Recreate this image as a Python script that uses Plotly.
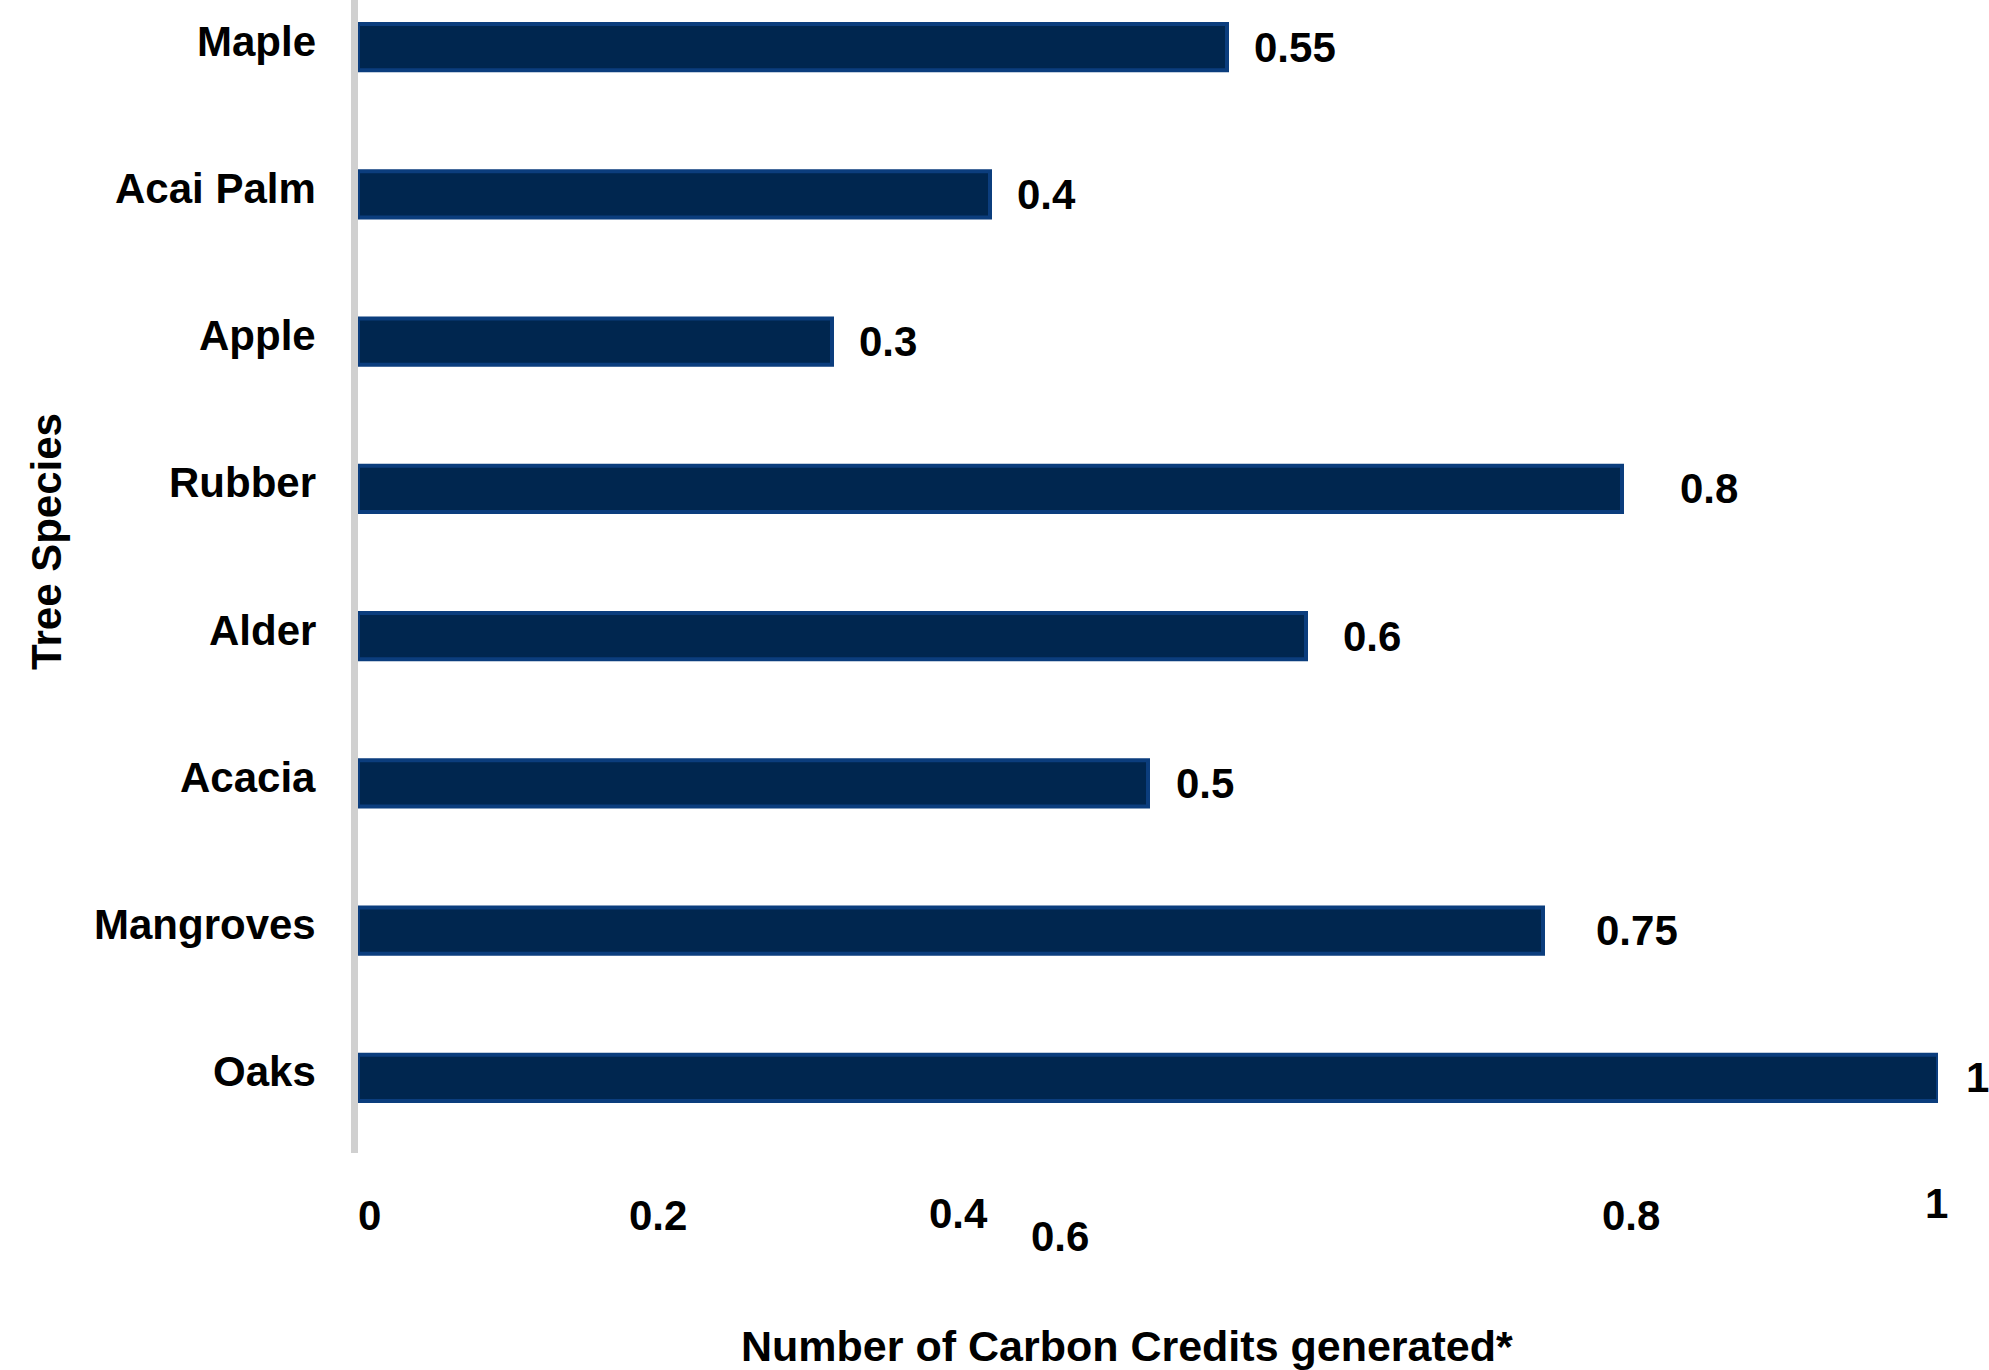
import plotly.graph_objects as go

species = ["Maple", "Acai Palm", "Apple", "Rubber", "Alder", "Acacia", "Mangroves", "Oaks"]
credits = [0.55, 0.4, 0.3, 0.8, 0.6, 0.5, 0.75, 1]
value_labels = ["0.55", "0.4", "0.3", "0.8", "0.6", "0.5", "0.75", "1"]
label_gap = [27, 27, 27, 58, 37, 28, 53, 28]

tick_text = ["0", "0.2", "0.4", "0.6", "0.8", "1"]
tick_pos = [0.007, 0.19, 0.38, 0.444, 0.806, 0.999]
tick_drop = [62, 62, 60, 83, 62, 50]

BOLD = "Liberation Sans, Arial, sans-serif"
NARROW = "Liberation Sans Narrow, Arial Narrow, Liberation Sans, sans-serif"

fig = go.Figure()
fig.add_trace(go.Bar(
    x=credits, y=species, orientation="h", width=0.315,
    marker=dict(color="#00264f", line=dict(color="#0b3d7d", width=4)),
    hoverinfo="skip",
))

annotations = []
for sp in species:
    annotations.append(dict(x=0, y=sp, xref="paper", yref="y", text=sp, showarrow=False,
                            xanchor="right", yanchor="middle", xshift=-40, yshift=6,
                            font=dict(family=BOLD, size=42, color="#000000", weight="bold")))
for sp, v, lab, gap in zip(species, credits, value_labels, label_gap):
    annotations.append(dict(x=v, y=sp, xref="x", yref="y", text=lab, showarrow=False,
                            xanchor="left", yanchor="middle", xshift=gap - 2,
                            font=dict(family=BOLD, size=42, color="#000000", weight="bold")))
for t, p, d in zip(tick_text, tick_pos, tick_drop):
    annotations.append(dict(x=p, y=0, xref="x", yref="paper", text=t, showarrow=False,
                            xanchor="center", yanchor="middle", yshift=-d,
                            font=dict(family=NARROW, size=42, color="#000000", weight="bold")))
annotations.append(dict(x=0.487, y=0, xref="paper", yref="paper",
                        text="Number of Carbon Credits generated*", showarrow=False,
                        xanchor="center", yanchor="middle", yshift=-193,
                        font=dict(family=NARROW, size=43, color="#000000", weight="bold")))
annotations.append(dict(x=0, y=0.53, xref="paper", yref="paper", text="Tree Species",
                        showarrow=False, textangle=-90, xanchor="center", yanchor="middle",
                        xshift=-311,
                        font=dict(family=BOLD, size=42, color="#000000", weight="bold")))

fig.update_layout(
    width=1989, height=1370,
    margin=dict(l=358, r=51, t=0, b=217),
    paper_bgcolor="white", plot_bgcolor="white",
    showlegend=False,
    annotations=annotations,
    xaxis=dict(range=[0, 1], showgrid=False, zeroline=False, showticklabels=False,
               showline=False),
    yaxis=dict(range=[7.51, -0.32], showgrid=False, zeroline=False,
               showline=True, linecolor="#d0d0d0", linewidth=7,
               showticklabels=False, ticks=""),
)

fig.write_html("out.html")
